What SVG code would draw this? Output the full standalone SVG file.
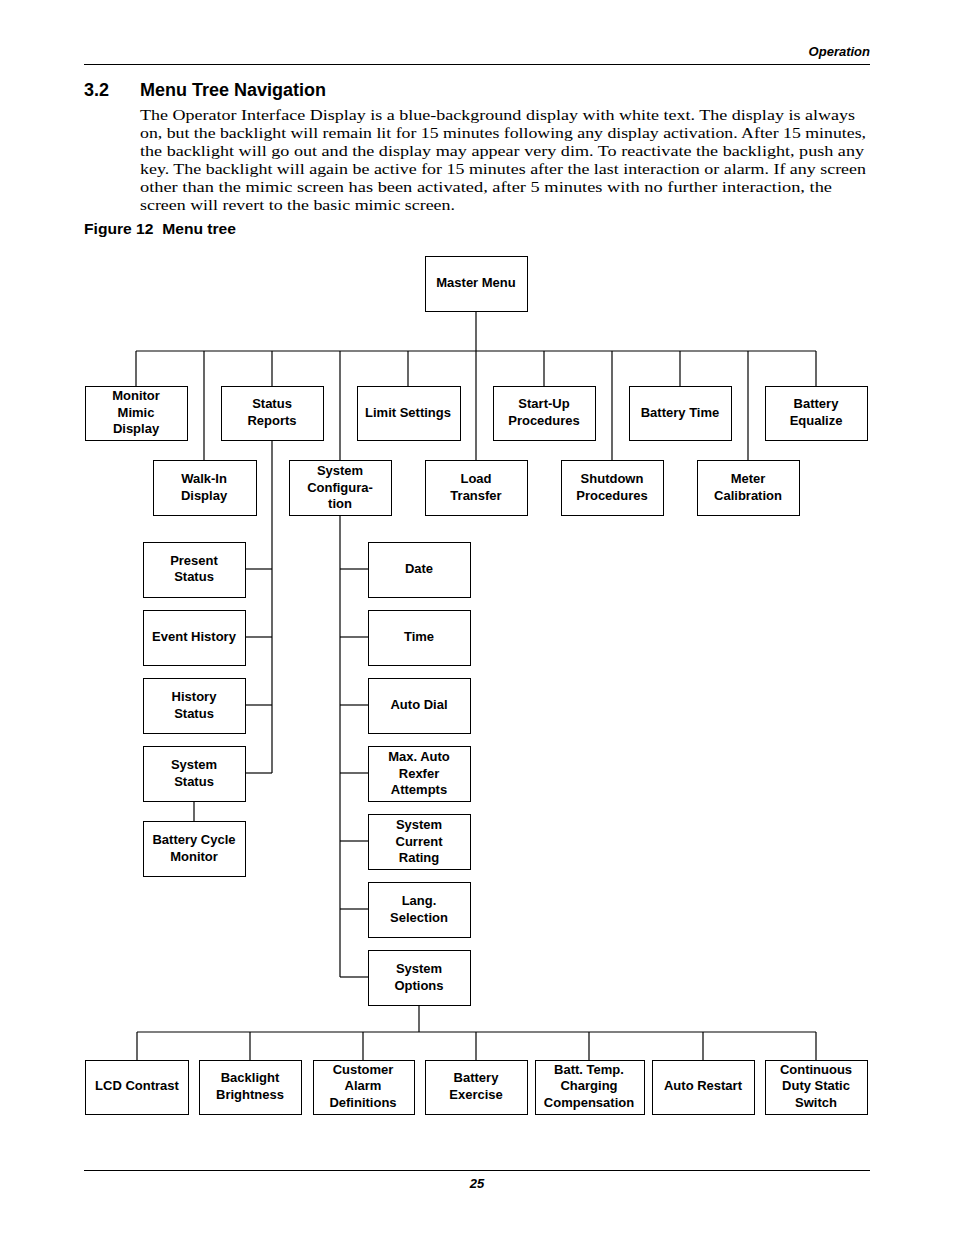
<svg xmlns="http://www.w3.org/2000/svg" width="954" height="1235" viewBox="0 0 954 1235">
<style>
.bg{fill:#fff}
.box{fill:#fff;stroke:#000;stroke-width:1}
.ln{stroke:#000;stroke-width:1.2;fill:none}
.t{font-family:"Liberation Sans",Arial,sans-serif;font-weight:bold;font-size:13px;text-anchor:middle;fill:#000}
.p{font-family:"Liberation Serif","Times New Roman",serif;font-size:15.5px;fill:#000}
.h{font-family:"Liberation Sans",Arial,sans-serif;font-weight:bold;fill:#000}
</style>
<rect class="bg" x="0" y="0" width="954" height="1235"/>
<g id="page">
<text class="h" x="870" y="56" font-size="13" font-style="italic" text-anchor="end">Operation</text>
<line x1="84" y1="64.5" x2="870" y2="64.5" stroke="#000" stroke-width="1.2"/>
<text class="h" x="84" y="96" font-size="18">3.2</text>
<text class="h" x="140" y="96" font-size="18">Menu Tree Navigation</text>
<text class="p" x="140" y="120" textLength="715" lengthAdjust="spacingAndGlyphs">The Operator Interface Display is a blue-background display with white text. The display is always</text>
<text class="p" x="140" y="138" textLength="726" lengthAdjust="spacingAndGlyphs">on, but the backlight will remain lit for 15 minutes following any display activation. After 15 minutes,</text>
<text class="p" x="140" y="156" textLength="724" lengthAdjust="spacingAndGlyphs">the backlight will go out and the display may appear very dim. To reactivate the backlight, push any</text>
<text class="p" x="140" y="174" textLength="726" lengthAdjust="spacingAndGlyphs">key. The backlight will again be active for 15 minutes after the last interaction or alarm. If any screen</text>
<text class="p" x="140" y="192" textLength="692" lengthAdjust="spacingAndGlyphs">other than the mimic screen has been activated, after 5 minutes with no further interaction, the</text>
<text class="p" x="140" y="210" textLength="315" lengthAdjust="spacingAndGlyphs">screen will revert to the basic mimic screen.</text>
<text class="h" x="84" y="234" font-size="14.5" xml:space="preserve" textLength="152" lengthAdjust="spacingAndGlyphs">Figure 12  Menu tree</text>
<line x1="84" y1="1170.5" x2="870" y2="1170.5" stroke="#000" stroke-width="1.2"/>
<text class="h" x="477" y="1188" font-size="13" font-style="italic" text-anchor="middle">25</text>
</g>
<g id="connectors">
<line class="ln" x1="476" y1="311" x2="476" y2="351"/>
<line class="ln" x1="136" y1="351" x2="816" y2="351"/>
<line class="ln" x1="136" y1="351" x2="136" y2="386"/>
<line class="ln" x1="204" y1="351" x2="204" y2="460"/>
<line class="ln" x1="272" y1="351" x2="272" y2="386"/>
<line class="ln" x1="340" y1="351" x2="340" y2="460"/>
<line class="ln" x1="408" y1="351" x2="408" y2="386"/>
<line class="ln" x1="476" y1="351" x2="476" y2="460"/>
<line class="ln" x1="544" y1="351" x2="544" y2="386"/>
<line class="ln" x1="612" y1="351" x2="612" y2="460"/>
<line class="ln" x1="680" y1="351" x2="680" y2="386"/>
<line class="ln" x1="748" y1="351" x2="748" y2="460"/>
<line class="ln" x1="816" y1="351" x2="816" y2="386"/>
<line class="ln" x1="272" y1="440" x2="272" y2="773"/>
<line class="ln" x1="245" y1="569" x2="272" y2="569"/>
<line class="ln" x1="245" y1="637" x2="272" y2="637"/>
<line class="ln" x1="245" y1="705" x2="272" y2="705"/>
<line class="ln" x1="245" y1="773" x2="272" y2="773"/>
<line class="ln" x1="194" y1="801" x2="194" y2="821"/>
<line class="ln" x1="340" y1="515" x2="340" y2="977"/>
<line class="ln" x1="340" y1="569" x2="368" y2="569"/>
<line class="ln" x1="340" y1="637" x2="368" y2="637"/>
<line class="ln" x1="340" y1="705" x2="368" y2="705"/>
<line class="ln" x1="340" y1="773" x2="368" y2="773"/>
<line class="ln" x1="340" y1="841" x2="368" y2="841"/>
<line class="ln" x1="340" y1="909" x2="368" y2="909"/>
<line class="ln" x1="340" y1="977" x2="368" y2="977"/>
<line class="ln" x1="419" y1="1005" x2="419" y2="1032"/>
<line class="ln" x1="137" y1="1032" x2="816" y2="1032"/>
<line class="ln" x1="137" y1="1032" x2="137" y2="1060"/>
<line class="ln" x1="250" y1="1032" x2="250" y2="1060"/>
<line class="ln" x1="363" y1="1032" x2="363" y2="1060"/>
<line class="ln" x1="476" y1="1032" x2="476" y2="1060"/>
<line class="ln" x1="589" y1="1032" x2="589" y2="1060"/>
<line class="ln" x1="703" y1="1032" x2="703" y2="1060"/>
<line class="ln" x1="816" y1="1032" x2="816" y2="1060"/>
</g>
<g id="master-menu"><rect class="box" x="425.5" y="256.5" width="102" height="55"/><text class="t" x="476" y="287">Master Menu</text></g>
<g id="monitor-mimic"><rect class="box" x="85.5" y="386.5" width="102" height="54"/><text class="t" x="136" y="400">Monitor</text><text class="t" x="136" y="416.5">Mimic</text><text class="t" x="136" y="433">Display</text></g>
<g id="status-reports"><rect class="box" x="221.5" y="386.5" width="102" height="54"/><text class="t" x="272" y="408">Status</text><text class="t" x="272" y="425">Reports</text></g>
<g id="limit-settings"><rect class="box" x="357.5" y="386.5" width="103" height="54"/><text class="t" x="408" y="417">Limit Settings</text></g>
<g id="start-up"><rect class="box" x="493.5" y="386.5" width="102" height="54"/><text class="t" x="544" y="408">Start-Up</text><text class="t" x="544" y="425">Procedures</text></g>
<g id="battery-time"><rect class="box" x="629.5" y="386.5" width="102" height="54"/><text class="t" x="680" y="417">Battery Time</text></g>
<g id="battery-equalize"><rect class="box" x="765.5" y="386.5" width="102" height="54"/><text class="t" x="816" y="408">Battery</text><text class="t" x="816" y="425">Equalize</text></g>
<g id="walk-in"><rect class="box" x="153.5" y="460.5" width="103" height="55"/><text class="t" x="204" y="483">Walk-In</text><text class="t" x="204" y="500">Display</text></g>
<g id="system-config"><rect class="box" x="289.5" y="460.5" width="102" height="55"/><text class="t" x="340" y="475">System</text><text class="t" x="340" y="491.5">Configura-</text><text class="t" x="340" y="508">tion</text></g>
<g id="load-transfer"><rect class="box" x="425.5" y="460.5" width="102" height="55"/><text class="t" x="476" y="483">Load</text><text class="t" x="476" y="500">Transfer</text></g>
<g id="shutdown"><rect class="box" x="561.5" y="460.5" width="102" height="55"/><text class="t" x="612" y="483">Shutdown</text><text class="t" x="612" y="500">Procedures</text></g>
<g id="meter-calibration"><rect class="box" x="697.5" y="460.5" width="102" height="55"/><text class="t" x="748" y="483">Meter</text><text class="t" x="748" y="500">Calibration</text></g>
<g id="present-status"><rect class="box" x="143.5" y="542.5" width="102" height="55"/><text class="t" x="194" y="565">Present</text><text class="t" x="194" y="581">Status</text></g>
<g id="event-history"><rect class="box" x="143.5" y="610.5" width="102" height="55"/><text class="t" x="194" y="641">Event History</text></g>
<g id="history-status"><rect class="box" x="143.5" y="678.5" width="102" height="55"/><text class="t" x="194" y="701">History</text><text class="t" x="194" y="718">Status</text></g>
<g id="system-status"><rect class="box" x="143.5" y="746.5" width="102" height="55"/><text class="t" x="194" y="769">System</text><text class="t" x="194" y="786">Status</text></g>
<g id="battery-cycle"><rect class="box" x="143.5" y="821.5" width="102" height="55"/><text class="t" x="194" y="844">Battery Cycle</text><text class="t" x="194" y="861">Monitor</text></g>
<g id="date"><rect class="box" x="368.5" y="542.5" width="102" height="55"/><text class="t" x="419" y="573">Date</text></g>
<g id="time"><rect class="box" x="368.5" y="610.5" width="102" height="55"/><text class="t" x="419" y="641">Time</text></g>
<g id="auto-dial"><rect class="box" x="368.5" y="678.5" width="102" height="55"/><text class="t" x="419" y="709">Auto Dial</text></g>
<g id="max-auto"><rect class="box" x="368.5" y="746.5" width="102" height="55"/><text class="t" x="419" y="761">Max. Auto</text><text class="t" x="419" y="777.5">Rexfer</text><text class="t" x="419" y="794">Attempts</text></g>
<g id="system-current"><rect class="box" x="368.5" y="814.5" width="102" height="55"/><text class="t" x="419" y="829">System</text><text class="t" x="419" y="845.5">Current</text><text class="t" x="419" y="862">Rating</text></g>
<g id="lang-selection"><rect class="box" x="368.5" y="882.5" width="102" height="55"/><text class="t" x="419" y="905">Lang.</text><text class="t" x="419" y="922">Selection</text></g>
<g id="system-options"><rect class="box" x="368.5" y="950.5" width="102" height="55"/><text class="t" x="419" y="973">System</text><text class="t" x="419" y="990">Options</text></g>
<g id="lcd-contrast"><rect class="box" x="85.5" y="1060.5" width="103" height="54"/><text class="t" x="137" y="1090">LCD Contrast</text></g>
<g id="backlight"><rect class="box" x="199.5" y="1060.5" width="102" height="54"/><text class="t" x="250" y="1082">Backlight</text><text class="t" x="250" y="1099">Brightness</text></g>
<g id="customer-alarm"><rect class="box" x="313.5" y="1060.5" width="101" height="54"/><text class="t" x="363" y="1074">Customer</text><text class="t" x="363" y="1090">Alarm</text><text class="t" x="363" y="1107">Definitions</text></g>
<g id="battery-exercise"><rect class="box" x="425.5" y="1060.5" width="102" height="54"/><text class="t" x="476" y="1082">Battery</text><text class="t" x="476" y="1099">Exercise</text></g>
<g id="batt-temp"><rect class="box" x="535.5" y="1060.5" width="109" height="54"/><text class="t" x="589" y="1074">Batt. Temp.</text><text class="t" x="589" y="1090">Charging</text><text class="t" x="589" y="1107">Compensation</text></g>
<g id="auto-restart"><rect class="box" x="652.5" y="1060.5" width="102" height="54"/><text class="t" x="703" y="1090">Auto Restart</text></g>
<g id="continuous-duty"><rect class="box" x="765.5" y="1060.5" width="102" height="54"/><text class="t" x="816" y="1074">Continuous</text><text class="t" x="816" y="1090">Duty Static</text><text class="t" x="816" y="1107">Switch</text></g>
</svg>
